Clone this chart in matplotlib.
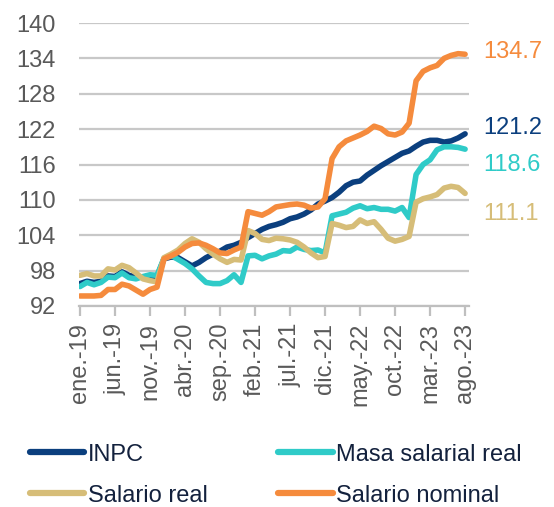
import matplotlib
matplotlib.use("Agg")
import matplotlib.pyplot as plt
from matplotlib.lines import Line2D

plt.rcParams['font.family'] = ['Liberation Sans', 'DejaVu Sans']

# meses ene-2019 .. ago-2023
meses = ['ene.', 'feb.', 'mar.', 'abr.', 'may.', 'jun.',
         'jul.', 'ago.', 'sep.', 'oct.', 'nov.', 'dic.']
fechas = [f"{m}-{a}" for a in ['19', '20', '21', '22', '23'] for m in meses][:56]

inpc = [95.8, 96.2, 96.0, 96.2, 97.1, 97.0, 97.8, 97.2, 96.9, 96.9, 97.1, 97.0,
        100.0, 100.3, 100.2, 99.5, 98.8, 99.4, 100.2, 100.8, 101.3, 102.0, 102.3, 102.8,
        103.6, 104.3, 105.0, 105.5, 105.8, 106.2, 106.8, 107.1, 107.6, 108.3, 109.3, 109.8,
        110.4, 111.3, 112.4, 113.0, 113.2, 114.2, 115.0, 115.8, 116.5, 117.2, 117.9, 118.3,
        119.1, 119.8, 120.1, 120.1, 119.8, 120.0, 120.5, 121.2]

masa_real = [95.3, 96.0, 95.6, 96.0, 96.9, 96.8, 97.6, 96.8, 96.6, 97.0, 97.3, 97.2,
             100.1, 100.6, 99.9, 99.2, 98.3, 97.1, 96.0, 95.8, 95.8, 96.3, 97.3, 96.0,
             100.5, 100.6, 100.0, 100.5, 100.8, 101.4, 101.3, 102.0, 101.6, 101.4, 101.5, 101.0,
             107.3, 107.6, 107.9, 108.6, 109.0, 108.5, 108.7, 108.4, 108.4, 108.1, 108.7, 107.0,
             114.3, 116.0, 116.8, 118.5, 119.0, 119.0, 118.9, 118.6]

salario_real = [97.2, 97.5, 97.1, 97.1, 98.3, 98.1, 98.9, 98.5, 97.6, 96.6, 96.3, 96.1,
                100.2, 100.8, 101.5, 102.6, 103.4, 102.8, 101.7, 100.8, 100.0, 99.4, 99.9, 99.8,
                104.8, 104.3, 103.3, 103.1, 103.5, 103.4, 103.2, 102.8, 102.0, 101.0, 100.2, 100.4,
                106.0, 105.7, 105.3, 105.5, 106.6, 106.0, 106.3, 105.0, 103.5, 103.0, 103.3, 103.8,
                109.6, 110.2, 110.5, 110.9, 112.0, 112.3, 112.1, 111.1]

salario_nominal = [93.7, 93.7, 93.7, 93.8, 94.8, 94.8, 95.7, 95.4, 94.7, 94.0, 94.8, 95.2,
                   100.0, 100.5, 101.1, 102.0, 102.6, 102.7, 102.3, 101.7, 101.0, 100.9, 101.5, 102.0,
                   108.0, 107.7, 107.4, 108.0, 108.8, 109.0, 109.2, 109.3, 109.1, 108.6, 108.8, 110.2,
                   117.0, 119.0, 120.0, 120.5, 121.0, 121.6, 122.5, 122.1, 121.2, 121.0, 121.5, 123.0,
                   130.2, 131.8, 132.4, 132.8, 134.0, 134.5, 134.8, 134.7]

series = [
    ("INPC", inpc, '#0B3F7E'),
    ("Masa salarial real", masa_real, '#2FCBC8'),
    ("Salario real", salario_real, '#D6BD78'),
    ("Salario nominal", salario_nominal, '#F58B3D'),
]
# desplazamiento vertical (px) de la etiqueta final
offsets = {"INPC": 6, "Masa salarial real": -16, "Salario real": -21, "Salario nominal": 2}

gris = '#BFBFBF'
texto = '#595959'

fig = plt.figure(figsize=(5.54, 5.07), dpi=100)
ax = fig.add_axes([79.3 / 554, (507 - 306) / 507, 390 / 554, 283 / 507])

x = list(range(len(fechas)))
for name, vals, col in series:
    ax.plot(x, vals, color=col, lw=4.0, solid_joinstyle='round', solid_capstyle='round')
    ax.annotate(f"{vals[-1]:.1f}", xy=(x[-1], vals[-1]), xytext=(18, offsets[name]),
                textcoords='offset pixels', ha='left', va='center',
                fontsize=17, color=col, annotation_clip=False)

ax.set_xlim(-0.1, 55.6)
ax.set_ylim(92, 140)
ax.set_yticks(range(92, 141, 6))
ax.set_xticks(x[::5])
ax.set_xticklabels(fechas[::5], rotation=90, ha='center', va='top')

ax.yaxis.grid(True, color='#C8C8C8', lw=1.6)
ax.set_axisbelow(True)
for s in ['top', 'right', 'left']:
    ax.spines[s].set_visible(False)
ax.spines['bottom'].set_color(gris)
ax.spines['bottom'].set_linewidth(1.6)
ax.tick_params(axis='x', direction='out', length=7, width=1.6, color=gris,
               labelsize=17, labelcolor=texto, pad=5)
ax.tick_params(axis='y', length=0, labelsize=17, labelcolor=texto, pad=17)

# orden por filas: INPC | Masa ; Salario real | Salario nominal
orden = [0, 2, 1, 3]
handles = [Line2D([], [], color=series[i][2], lw=4.5, solid_capstyle='round') for i in orden]
labels = [series[i][0] for i in orden]
fig.legend(handles, labels, ncol=2, loc='upper left', bbox_to_anchor=(0.054, 0.125),
           frameon=False, fontsize=17, labelcolor='#13213D', handlelength=2.3,
           handletextpad=0.15, columnspacing=3.0, labelspacing=0.8, borderpad=0,
           borderaxespad=0)

fig.savefig("out.png", dpi=100)
